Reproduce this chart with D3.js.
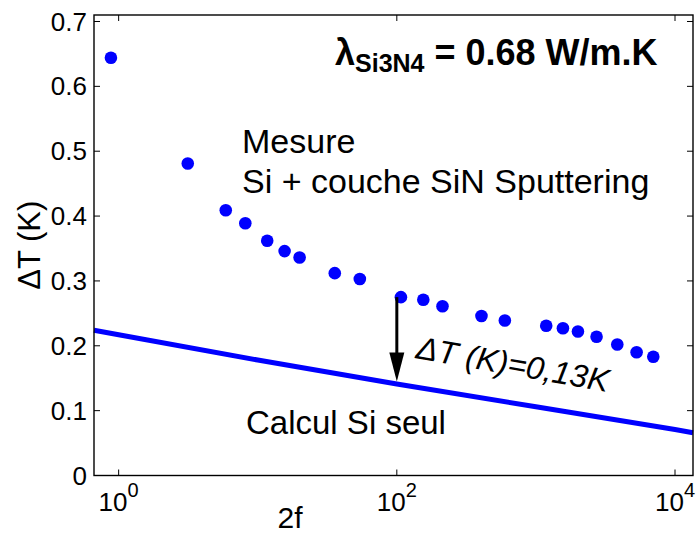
<!DOCTYPE html>
<html>
<head>
<meta charset="utf-8">
<script src="https://cdn.jsdelivr.net/npm/d3@7"></script>
<style>
  html, body { margin: 0; padding: 0; background: #fff; }
  svg { display: block; font-family: "Liberation Sans", Arial, Helvetica, sans-serif; }
</style>
</head>
<body>
<svg id="chart" width="698" height="536"></svg>
<script>
// Measured temperature rise, Si + sputtered SiN layer
const freq = [0.88, 3.14, 5.89, 8.14, 11.7, 15.6, 20.0, 35.8, 54.2, 107, 155, 213, 406, 598, 1186, 1564, 2005, 2729, 3846, 5295, 6980];
const deltaT = [0.644, 0.481, 0.409, 0.389, 0.362, 0.346, 0.336, 0.312, 0.303, 0.275, 0.271, 0.261, 0.246, 0.239, 0.231, 0.227, 0.222, 0.214, 0.202, 0.190, 0.183];

// Computed curve for bare Si
const calcFreq = [0.665, 1, 10, 100, 1000, 10000, 13470];
const calcDeltaT = [0.224, 0.217, 0.178, 0.141, 0.106, 0.071, 0.066];

// Arrow showing the offset between measurement and model
const arrowFreq = 100;
const arrowTop = 0.275;
const arrowDrop = 0.13;

// Axis ticks
const xTicks = [1, 100, 10000];
const xTickExp = ["0", "2", "4"];
const yTicks = [0, 0.1, 0.2, 0.3, 0.4, 0.5, 0.6, 0.7];
const yTickLabels = ["0", "0.1", "0.2", "0.3", "0.4", "0.5", "0.6", "0.7"];

const svg = d3.select("#chart");
const L = 94, R = 693, T = 15, B = 475.5;

const x = d3.scaleLog().domain([0.665, 13470]).range([L, R]);
const y = d3.scaleLinear().domain([0, 0.71]).range([B, T]);

const blue = "#0000ff";

// Model line
svg.append("path")
  .datum(calcFreq.map((f, i) => [f, calcDeltaT[i]]))
  .attr("fill", "none")
  .attr("stroke", blue)
  .attr("stroke-width", 5)
  .attr("d", d3.line().x(d => x(d[0])).y(d => y(d[1])));

// Measured points
svg.append("g").selectAll("circle")
  .data(freq.map((f, i) => [f, deltaT[i]]))
  .join("circle")
  .attr("cx", d => x(d[0]))
  .attr("cy", d => y(d[1]))
  .attr("r", 6.3)
  .attr("fill", blue);

// Axes box and inward ticks on all four sides
const axisG = svg.append("g");
axisG.append("rect")
  .attr("x", L).attr("y", T).attr("width", R - L).attr("height", B - T)
  .attr("fill", "none").attr("stroke", "#000").attr("stroke-width", 1.4);

const tl = 6;
yTicks.forEach(v => {
  axisG.append("line").attr("x1", L).attr("x2", L + tl).attr("y1", y(v)).attr("y2", y(v))
    .attr("stroke", "#000").attr("stroke-width", 1);
  axisG.append("line").attr("x1", R).attr("x2", R - tl).attr("y1", y(v)).attr("y2", y(v))
    .attr("stroke", "#000").attr("stroke-width", 1);
});
xTicks.forEach(v => {
  axisG.append("line").attr("x1", x(v)).attr("x2", x(v)).attr("y1", B).attr("y2", B - tl)
    .attr("stroke", "#000").attr("stroke-width", 1);
  axisG.append("line").attr("x1", x(v)).attr("x2", x(v)).attr("y1", T).attr("y2", T + tl)
    .attr("stroke", "#000").attr("stroke-width", 1);
});

// Y tick labels
axisG.selectAll("text.ylab")
  .data(yTicks)
  .join("text")
  .attr("class", "ylab")
  .attr("x", L - 7)
  .attr("y", d => y(d))
  .attr("dy", "0.35em")
  .attr("text-anchor", "end")
  .attr("font-size", 26)
  .text((d, i) => yTickLabels[i]);

// X tick labels as powers of ten
xTicks.forEach((v, i) => {
  const t = axisG.append("text")
    .attr("x", x(v))
    .attr("y", 511)
    .attr("text-anchor", "middle")
    .attr("font-size", 26);
  t.append("tspan").text("10");
  t.append("tspan").attr("dy", -14).attr("font-size", 20).text(xTickExp[i]);
});

// Axis titles
svg.append("text")
  .attr("transform", `translate(40,${(T + B) / 2}) rotate(-90)`)
  .attr("text-anchor", "middle")
  .attr("font-size", 31)
  .text("\u0394T (K)");

svg.append("text")
  .attr("x", 290)
  .attr("y", 528)
  .attr("text-anchor", "middle")
  .attr("font-size", 30)
  .text("2f");

// Annotations
const title = svg.append("text")
  .attr("x", 335).attr("y", 65)
  .attr("font-size", 36).attr("font-weight", "bold");
title.append("tspan").text("\u03bb");
title.append("tspan").attr("font-size", 25).attr("dy", 7).text("Si3N4");
title.append("tspan").attr("dy", -7).text(" = 0.68 W/m.K");

svg.append("text").attr("x", 242).attr("y", 153).attr("font-size", 34).text("Mesure");
svg.append("text").attr("x", 242).attr("y", 193).attr("font-size", 34).text("Si + couche SiN Sputtering");
svg.append("text").attr("x", 246).attr("y", 434).attr("font-size", 33).text("Calcul Si seul");

// Arrow
const ax = x(arrowFreq);
const ay0 = y(arrowTop);
const ay1 = y(arrowTop - arrowDrop);
svg.append("line")
  .attr("x1", ax).attr("x2", ax).attr("y1", ay0).attr("y2", ay1 - 26)
  .attr("stroke", "#000").attr("stroke-width", 3);
svg.append("path")
  .attr("d", `M${ax - 7.5},${ay1 - 29} L${ax + 7.5},${ay1 - 29} L${ax},${ay1} Z`)
  .attr("fill", "#000");

svg.append("text")
  .attr("transform", "translate(415,358) rotate(10)")
  .attr("font-size", 32)
  .attr("font-style", "italic")
  .text("\u0394T (K)=0,13K");
</script>
</body>
</html>
